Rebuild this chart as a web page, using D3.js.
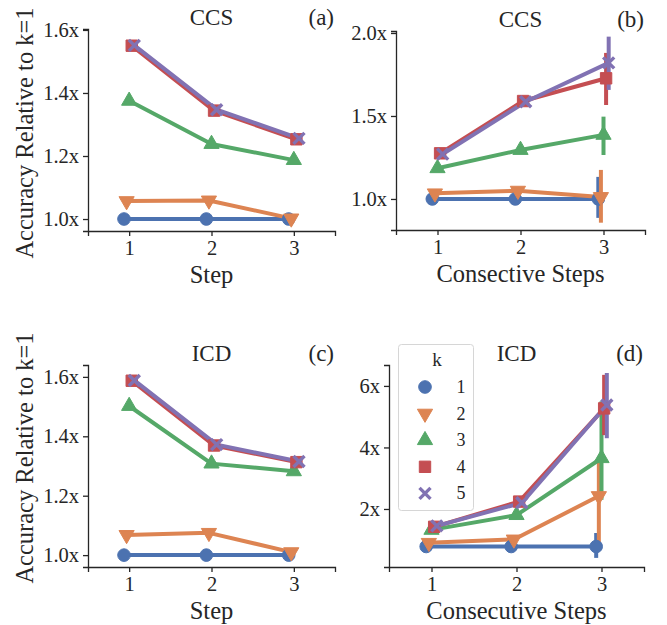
<!DOCTYPE html>
<html>
<head>
<meta charset="utf-8">
<script src="https://cdn.jsdelivr.net/npm/d3@7"></script>
<style>
  body { margin: 0; background: #fff; }
  svg text { font-family: "Liberation Serif", "DejaVu Serif", serif; fill: #262626; }
</style>
</head>
<body>
<svg id="chart" width="667" height="625"></svg>
<script>
// categories
const steps = ["1", "2", "3"];
const kValues = ["1", "2", "3", "4", "5"];
const colors = ["#4C72B0", "#DD8452", "#55A868", "#C44E52", "#8172B3"];

// (a) CCS by step, one row per k
const ccsStep = [
  [1.0, 1.0, 1.0],
  [1.057, 1.059, 1.002],
  [1.375, 1.238, 1.187],
  [1.550, 1.344, 1.253],
  [1.551, 1.347, 1.256]
];
const ccsStepCI = [
  [null, null, null],
  [null, [1.052, 1.066], null],
  [null, null, [1.183, 1.192]],
  [null, null, null],
  [null, null, null]
];

// (b) CCS by consecutive steps
const ccsCons = [
  [1.0, 1.0, 1.0],
  [1.034, 1.05, 1.012],
  [1.185, 1.295, 1.386],
  [1.275, 1.59, 1.727],
  [1.27, 1.586, 1.82]
];
const ccsConsCI = [
  [null, null, [0.886, 1.133]],
  [null, [1.038, 1.062], [0.857, 1.175]],
  [null, null, [1.265, 1.496]],
  [null, null, [1.566, 1.88]],
  [null, null, [1.657, 1.978]]
];

// (c) ICD by step
const icdStep = [
  [1.0, 1.0, 1.0],
  [1.068, 1.075, 1.01],
  [1.502, 1.308, 1.282],
  [1.587, 1.369, 1.313],
  [1.588, 1.372, 1.315]
];
const icdStepCI = [
  [null, null, null],
  [null, [1.06, 1.09], null],
  [null, null, null],
  [null, null, null],
  [null, null, null]
];

// (d) ICD by consecutive steps
const icdCons = [
  [0.78, 0.78, 0.78],
  [0.90, 1.01, 2.42],
  [1.32, 1.80, 3.65],
  [1.42, 2.24, 5.27],
  [1.45, 2.20, 5.38]
];
const icdConsCI = [
  [null, null, [0.41, 1.22]],
  [null, null, [0.8, 3.5]],
  [null, null, [2.3, 5.5]],
  [null, null, [4.4, 6.36]],
  [null, null, [4.3, 6.42]]
];

// tick labels and axis limits
const ticksRel = [1.0, 1.2, 1.4, 1.6];
const ticksCcsCons = [1.0, 1.5, 2.0];
const ticksIcdCons = [2, 4, 6];
const limA = [0.962, 1.603];
const limB = [0.813, 2.012];
const limC = [0.96, 1.64];
const limD = [0.114, 6.68];

const panels = [
  { title: "CCS", tag: "(a)", xlabel: "Step", ylabel: "Accuracy Relative to k=1", ylabelY: 133,
    vals: ccsStep, ci: ccsStepCI, ticks: ticksRel, lim: limA, fmt: d3.format(".1f"),
    l: 88, r: 335, t: 29, b: 231 },
  { title: "CCS", tag: "(b)", xlabel: "Consective Steps",
    vals: ccsCons, ci: ccsConsCI, ticks: ticksCcsCons, lim: limB, fmt: d3.format(".1f"),
    l: 396, r: 645, t: 31, b: 230 },
  { title: "ICD", tag: "(c)", xlabel: "Step", ylabel: "Accuracy Relative to k=1", ylabelY: 458,
    vals: icdStep, ci: icdStepCI, ticks: ticksRel, lim: limC, fmt: d3.format(".1f"),
    l: 88, r: 335, t: 365, b: 567 },
  { title: "ICD", tag: "(d)", xlabel: "Consecutive Steps", legend: true,
    vals: icdCons, ci: icdConsCI, ticks: ticksIcdCons, lim: limD, fmt: d3.format("d"),
    l: 389, r: 644, t: 365, b: 567 }
];

const svg = d3.select("#chart");
const ink = "#262626";

// seaborn-style dodge: spread hues over 0.125 of a category
const dodge = d3.scaleLinear().domain([0, kValues.length - 1]).range([-0.0625, 0.0625]);

const drawMarker = (g, i, x, y) => {
  const c = colors[i];
  if (i === 4) {
    g.append("path")
      .attr("d", "M-5.5,-5.5L5.5,5.5M-5.5,5.5L5.5,-5.5")
      .attr("transform", `translate(${x},${y})`)
      .attr("stroke", c).attr("stroke-width", 3.4).attr("fill", "none");
    return;
  }
  const type = [d3.symbolCircle, d3.symbolTriangle, d3.symbolTriangle, d3.symbolSquare][i];
  const size = [125, 100, 100, 130][i];
  const rot = i === 1 ? 180 : 0;
  g.append("path")
    .attr("d", d3.symbol().type(type).size(size)())
    .attr("transform", `translate(${x},${y}) rotate(${rot})`)
    .attr("fill", c).attr("stroke", c).attr("stroke-width", 1);
};

panels.forEach(p => {
  const x = d3.scaleLinear().domain([-0.5, steps.length - 0.5]).range([p.l, p.r]);
  const y = d3.scaleLinear().domain(p.lim).range([p.b, p.t]);
  const g = svg.append("g");

  // axes
  const xAxis = g.append("g").attr("transform", `translate(0,${p.b})`)
    .call(d3.axisBottom(x).tickValues(d3.range(steps.length)).tickFormat(i => steps[i])
      .tickSize(5).tickPadding(4));
  const yAxis = g.append("g").attr("transform", `translate(${p.l},0)`)
    .call(d3.axisLeft(y).tickValues(p.ticks).tickFormat(v => p.fmt(v) + "x")
      .tickSize(5).tickPadding(4));
  [xAxis, yAxis].forEach(a => {
    a.select(".domain").attr("stroke", ink).attr("stroke-width", 1.3);
    a.selectAll(".tick line").attr("stroke", ink).attr("stroke-width", 1.3);
    a.selectAll(".tick text").attr("font-size", 20.5).attr("fill", ink);
  });

  // titles and labels
  g.append("text").attr("x", (p.l + p.r) / 2).attr("y", p.t - 4)
    .attr("text-anchor", "middle").attr("font-size", 23).text(p.title);
  g.append("text").attr("x", p.r - 1).attr("y", p.t - 4)
    .attr("text-anchor", "end").attr("font-size", 23).text(p.tag);
  g.append("text").attr("x", (p.l + p.r) / 2).attr("y", p.b + 52)
    .attr("text-anchor", "middle").attr("font-size", 24.5).text(p.xlabel);
  if (p.ylabel) {
    g.append("text").attr("transform", `translate(33,${p.ylabelY}) rotate(-90)`)
      .attr("text-anchor", "middle").attr("font-size", 24.5).text(p.ylabel);
  }

  // error bars first, then lines, markers on top
  p.ci.forEach((row, i) => {
    row.forEach((ci, j) => {
      if (!ci) return;
      g.append("line")
        .attr("x1", x(j + dodge(i))).attr("x2", x(j + dodge(i)))
        .attr("y1", y(ci[0])).attr("y2", y(ci[1]))
        .attr("stroke", colors[i]).attr("stroke-width", 4);
    });
  });
  p.vals.forEach((row, i) => {
    g.append("path")
      .datum(row)
      .attr("d", d3.line().x((d, j) => x(j + dodge(i))).y(d => y(d)))
      .attr("fill", "none").attr("stroke", colors[i]).attr("stroke-width", 4)
      .attr("stroke-linejoin", "round");
  });
  p.vals.forEach((row, i) => {
    row.forEach((v, j) => drawMarker(g, i, x(j + dodge(i)), y(v)));
  });

  if (p.legend) {
    const lg = g.append("g");
    lg.append("rect").attr("x", 398.5).attr("y", 344.5).attr("width", 75).attr("height", 166)
      .attr("rx", 3).attr("fill", "#fff").attr("fill-opacity", 0.85)
      .attr("stroke", "#d6d6d6").attr("stroke-width", 1);
    lg.append("text").attr("x", 437).attr("y", 366).attr("text-anchor", "middle")
      .attr("font-size", 19).text("k");
    kValues.forEach((k, i) => {
      const ry = 387 + i * 26.6;
      drawMarker(lg, i, 425, ry);
      lg.append("text").attr("x", 461).attr("y", ry + 6).attr("text-anchor", "middle")
        .attr("font-size", 18).text(k);
    });
  }
});
</script>
</body>
</html>
